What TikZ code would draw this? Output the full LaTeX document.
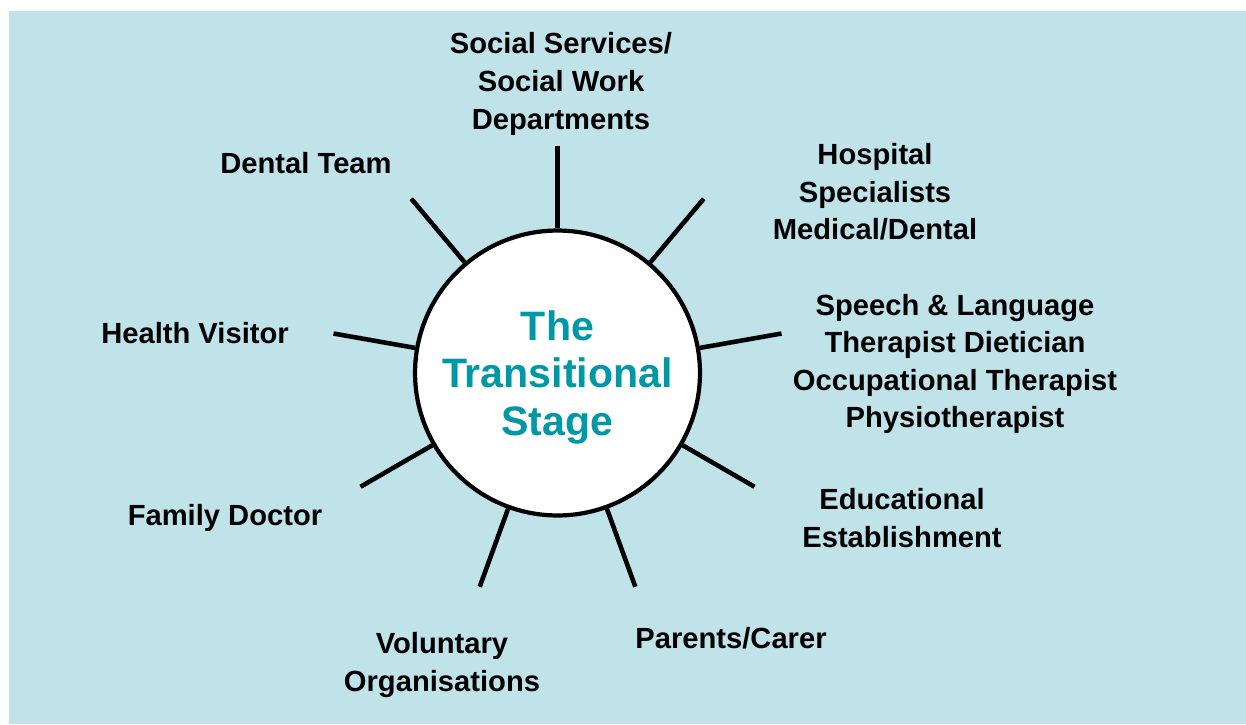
\documentclass[tikz,border=0pt]{standalone}
\usepackage{fontspec}
\setmainfont{Liberation Sans}
\definecolor{bgblue}{RGB}{191,227,233}
\definecolor{stageteal}{RGB}{0,152,166}
\tikzset{
  agency/.style={align=center,inner sep=0pt,font=\bfseries\fontsize{16.6}{21.4}\selectfont},
  spoke/.style={line width=2.6pt},
}

\begin{document}
\begin{tikzpicture}[x=0.02cm,y=-0.02cm]
  \useasboundingbox (0,0) rectangle (1246,724);
  \fill[bgblue] (9,11) rectangle (1246,724);
  % the hub
  \node[circle,draw,fill=white,line width=2.4pt,minimum size=5.7cm,inner sep=0pt,
        text=stageteal,align=center,text depth=0pt,font=\bfseries\fontsize{23.4}{27.2}\selectfont]
        (hub) at (557.5,373) {The\\Transitional\\Stage};
  % spokes, one every 40 degrees
  \foreach \a [count=\i] in {90,50,10,-30,-70,-110,-150,170,130}{
    \path (hub.center) ++(\a:4.55cm) coordinate (tip\i);
    \draw[spoke] (hub.\a) -- (tip\i);
  }
  % the agencies round it
  \node[agency] (social) at (561,84) {Social Services/\\Social Work\\Departments};
  \node[agency] (hospital) at (875,192) {Hospital\\Specialists\\Medical/Dental};
  \node[agency] (therapists) at (955,364) {Speech \& Language\\Therapist Dietician\\Occupational Therapist\\Physiotherapist};
  \node[agency] (education) at (902,518) {Educational\\Establishment};
  \node[agency] (parents) at (731,638) {Parents/Carer};
  \node[agency] (voluntary) at (442,665) {Voluntary\\Organisations};
  \node[agency] (doctor) at (225,518) {Family Doctor};
  \node[agency] (visitor) at (195,333) {Health Visitor};
  \node[agency] (dental) at (306,163) {Dental Team};
\end{tikzpicture}
\end{document}
